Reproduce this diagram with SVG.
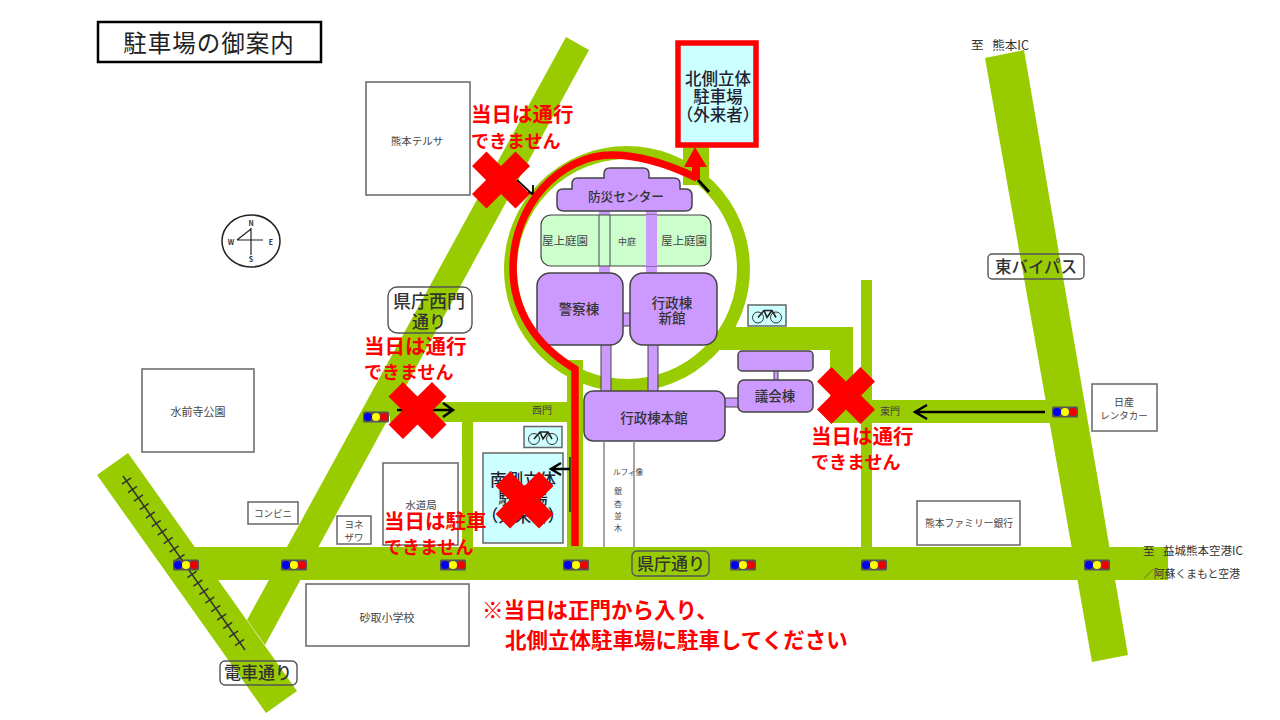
<svg xmlns="http://www.w3.org/2000/svg" width="1280" height="720" viewBox="0 0 1280 720">
<style>
text{font-family:"Noto Sans CJK JP","Liberation Sans",sans-serif;text-anchor:middle}
.road{fill:#99cc00}
.b{fill:#fff;stroke:#666;stroke-width:1.5}
.t{fill:#444;font-size:10.5px}
.k{fill:#333;font-size:13.5px;font-weight:500}
.s{fill:#223;font-size:16.5px;font-weight:500}
.p{fill:#cc99ff;stroke:#444;stroke-width:1.5}
.c{fill:#ccffcc;stroke:#444;stroke-width:1.2}
.sb{fill:#ccffff;stroke:#666;stroke-width:1.5}
.r{fill:#ff0000;font-size:20.5px;font-weight:700;text-anchor:start}
.r2{fill:#ff0000;font-size:18px;font-weight:700;text-anchor:start}
.n{fill:#ff0000;font-size:21.5px;font-weight:700;text-anchor:start}
.x{fill:#ff0000}
.lab{fill:none;stroke:#555;stroke-width:1.4}
.lt{fill:#333;font-size:17px;font-weight:500}
.ar{fill:none;stroke:#000;stroke-width:2.5}
.ic{fill:#333;font-size:11.5px}
</style>
<defs>
<g id="sig"><rect x="-13" y="-5.5" width="26" height="11" rx="1.5" fill="#555"/><circle cx="-8" cy="0" r="4" fill="#0000ee"/><circle cx="0" cy="0" r="4" fill="#ffff00"/><circle cx="8" cy="0" r="4" fill="#ee0000"/></g>
<polygon id="xm" points="-29,-14 -14.5,-28.5 0,-14 14.5,-28.5 29,-14 15,0 29,14 14.5,28.5 0,14 -14.5,28.5 -29,14 -15,0"/>
<g id="bike"><rect x="-19" y="-10.5" width="38" height="21" fill="#ccffff" stroke="#666" stroke-width="1.5"/><circle cx="-9" cy="2" r="5.5" fill="none" stroke="#333"/><circle cx="9" cy="2" r="5.5" fill="none" stroke="#333"/><path d="M-9 2L-3-5L5-5L9 2M-3-5L0 2L5-5" fill="none" stroke="#222" stroke-width="1.6"/></g>
</defs>
<rect width="1280" height="720" fill="#fff"/>
<g id="roads">
<polygon class="road" points="566,37 589,50 265,645 247,620"/>
<polygon class="road" points="128,453 97,475 266,713 297,691"/>
<rect class="road" x="195" y="547" width="973" height="33"/>
<polygon class="road" points="985,58 1024,50 1128,655 1092,662"/>
<rect class="road" x="390" y="402" width="185" height="20"/>
<rect class="road" x="462" y="420" width="11" height="130"/>
<rect class="road" x="567" y="360" width="16" height="190"/>
<rect class="road" x="861" y="280" width="11" height="270"/>
<rect class="road" x="830" y="400" width="225" height="23"/>
<rect class="road" x="720" y="327" width="133" height="23"/>
<rect class="road" x="830" y="327" width="23" height="75"/>
<rect class="road" x="683" y="145" width="26" height="40"/>
<circle cx="627" cy="269" r="116.5" fill="none" stroke="#99cc00" stroke-width="13"/>
</g>
<g id="rail" fill="none" stroke="#333" stroke-width="1.5">
<path d="M123 476L245 650"/>
<path d="M122 484.2l9-6.4m-3.05 14.9l9-6.4m-3.05 14.9l9-6.4m-3.05 14.9l9-6.4m-3.05 14.9l9-6.4m-3.05 14.9l9-6.4m-3.05 14.9l9-6.4m-3.05 14.9l9-6.4m-3.05 14.9l9-6.4m-3.05 14.9l9-6.4m-3.05 14.9l9-6.4m-3.05 14.9l9-6.4m-3.05 14.9l9-6.4m-3.05 14.9l9-6.4m-3.05 14.9l9-6.4m-3.05 14.9l9-6.4m-3.05 14.9l9-6.4m-3.05 14.9l9-6.4m-3.05 14.9l9-6.4m-3.05 14.9l9-6.4"/>
</g>
<g id="title"><rect x="98" y="22" width="223" height="40" fill="#fff" stroke="#000" stroke-width="2.5"/><text x="209" y="52" font-size="23.5" letter-spacing="1" fill="#222">駐車場の御案内</text></g>
<g id="compass" fill="none" stroke="#222"><ellipse cx="251" cy="241" rx="29" ry="26" stroke-width="1.5"/><path d="M251 228V255M237 240H263M251 229L237 240" stroke-width="1.2"/><g fill="#333" stroke="none" font-size="7" font-weight="700"><text x="251" y="226">N</text><text x="231" y="245">W</text><text x="271" y="245">E</text><text x="251" y="262">S</text></g></g>
<g id="n-terusa"><rect class="b" x="366" y="82" width="104" height="113"/><text class="t" x="417" y="145">熊本テルサ</text></g>
<g id="n-suizenji"><rect class="b" x="142" y="369" width="112" height="83"/><text class="t" x="198" y="416" style="font-size:11px">水前寺公園</text></g>
<g id="n-conv"><rect class="b" x="248" y="502" width="50" height="22"/><text class="t" x="273" y="517" style="font-size:9.5px">コンビニ</text></g>
<g id="n-yonezawa"><rect class="b" x="337" y="516" width="34" height="28"/><text class="t" x="354" y="528" style="font-size:9.5px">ヨネ</text><text class="t" x="354" y="541" style="font-size:9.5px">ザワ</text></g>
<g id="n-water"><rect class="b" x="383" y="463" width="75" height="82"/><text class="t" x="421" y="509">水道局</text></g>
<g id="n-school"><rect class="b" x="306" y="584" width="163" height="62"/><text class="t" x="387" y="622" style="font-size:11px">砂取小学校</text></g>
<g id="n-rental"><rect class="b" x="1092" y="384" width="65" height="47"/><text class="t" x="1124" y="406" style="font-size:10px">日産</text><text class="t" x="1124" y="419" style="font-size:9.5px">レンタカー</text></g>
<g id="n-bank"><rect class="b" x="917" y="501" width="103" height="44"/><text class="t" x="969" y="527" style="font-size:9.8px">熊本ファミリー銀行</text></g>
<g id="bldg-links" fill="#cc99ff" stroke="#444" stroke-width="1">
<rect x="599" y="208" width="11" height="68" stroke="none"/><rect x="646" y="208" width="11" height="68" stroke="none"/>
<rect x="601" y="343" width="10" height="50"/><rect x="648" y="343" width="10" height="50"/>
<rect x="621" y="313" width="11" height="13"/><rect x="723" y="398" width="17" height="9"/><rect x="774" y="369" width="4" height="13"/>
</g>
<g id="n-garden"><rect class="c" x="541" y="215" width="170" height="51" rx="10"/><path d="M599 215V266M610 215V266" stroke="#445" fill="none"/><rect x="646" y="215" width="11" height="51" fill="#cc99ff"/><text class="t" x="565" y="245" style="font-size:11.5px">屋上庭園</text><text class="t" x="627" y="245" style="font-size:9px">中庭</text><text class="t" x="684" y="245" style="font-size:11.5px">屋上庭園</text></g>
<g id="n-bosai"><path class="p" d="M604 174Q604 168 610 168H643Q649 168 649 174V178H674Q680 178 680 184V189H686Q692 189 692 196V205Q692 211 685 211H564Q557 211 557 205V195Q557 189 563 189H572V184Q572 178 578 178H604Z"/><text class="k" x="626" y="201" style="font-size:12.7px">防災センター</text></g>
<g id="n-police"><rect class="p" x="537" y="273" width="86" height="72" rx="13"/><text class="k" x="579" y="314">警察棟</text></g>
<g id="n-new"><rect class="p" x="630" y="273" width="87" height="72" rx="13"/><text class="k" x="672" y="308">行政棟</text><text class="k" x="672" y="323">新館</text></g>
<g id="n-main"><rect class="p" x="584" y="391" width="141" height="50" rx="9"/><text class="k" x="654" y="423">行政棟本館</text></g>
<g id="n-gikai0"><rect class="p" x="738" y="351" width="75" height="20" rx="4"/></g>
<g id="n-gikai"><rect class="p" x="738" y="380" width="75" height="32" rx="6"/><text class="k" x="775" y="401">議会棟</text></g>
<g id="avenue" stroke="#888" stroke-width="1.5"><path d="M604 441V547M634 441V547"/></g>
<g id="avenue-labels"><text class="t" x="628" y="475" style="font-size:7.5px">ルフィ像</text><text class="t" x="618" y="494" style="font-size:8px">銀</text><text class="t" x="618" y="507" style="font-size:8px">杏</text><text class="t" x="618" y="519" style="font-size:8px">並</text><text class="t" x="618" y="531" style="font-size:8px">木</text></g>
<g id="n-south"><rect class="sb" x="483" y="453" width="80" height="90"/><text class="s" x="523" y="486">南側立体</text><text class="s" x="523" y="504">駐車場</text><text class="s" x="523" y="522">（外来者）</text></g>
<g id="n-north"><rect x="678" y="43" width="78" height="102" fill="#ccffff" stroke="#ff0000" stroke-width="5.5"/><text class="s" x="718" y="85">北側立体</text><text class="s" x="718" y="103">駐車場</text><text class="s" x="718" y="121">（外来者）</text></g>
<use href="#bike" x="767" y="315.5"/><use href="#bike" x="543" y="437"/>
<g id="signals"><use href="#sig" x="186" y="565"/><use href="#sig" x="294" y="565"/><use href="#sig" x="453" y="565"/><use href="#sig" x="576" y="565"/><use href="#sig" x="743" y="565"/><use href="#sig" x="874" y="565"/><use href="#sig" x="1097" y="565"/><use href="#sig" x="376" y="417"/><use href="#sig" x="1065" y="412"/></g>
<g id="connectors">
<path d="M517 180L533 195M525 193H533V185" fill="none" stroke="#000" stroke-width="1.8"/>
<path d="M698 180L709 192" stroke="#000" stroke-width="3"/>
<path d="M397 410H453M443 403L453 410L443 417" class="ar"/>
<path d="M1045 412H916M927 405L915 412L927 419" class="ar"/>
<path d="M570 457V512" stroke="#222" stroke-width="1.5"/>
<path d="M570 469H552M561 463L551 469L561 475" class="ar"/>
<path d="M575 546V369C535 345 513 310 513 268C513 205 560 155 612 155C640 155 670 165 697 178" fill="none" stroke="#ff0000" stroke-width="7.5"/>
<polygon points="695,147 707,167 684,167" fill="#ff0000"/><rect x="692" y="160" width="8" height="20" fill="#ff0000"/>
</g>
<g id="road-labels"><text class="t" x="542" y="414" style="font-size:10px">西門</text><text class="t" x="890" y="415" style="font-size:10px">東門</text>
<g><rect class="lab" x="632" y="551" width="77" height="25" rx="5"/><text class="lt" x="671" y="570">県庁通り</text></g>
<g><rect class="lab" x="220" y="661" width="77" height="24" rx="5"/><text class="lt" x="258" y="679">電車通り</text></g>
<g><rect class="lab" x="388" y="287" width="84" height="46" rx="9"/><text class="lt" x="429" y="308" style="font-size:18px">県庁西門</text><text class="lt" x="429" y="328" style="font-size:17px">通り</text></g>
<g><rect class="lab" x="988" y="254" width="96" height="25" rx="4"/><text class="lt" x="1036" y="273" style="font-size:16.5px">東バイパス</text></g>
<text class="ic" x="1000" y="50" style="font-size:12.5px;word-spacing:6px">至 熊本IC</text>
<text class="ic" x="1143" y="555" style="text-anchor:start;word-spacing:6px">至 益城熊本空港IC</text>
<text class="ic" x="1143" y="578" style="text-anchor:start;font-size:10.8px">／阿蘇くまもと空港</text></g>
<g id="x-marks" class="x"><use href="#xm" x="501" y="180"/><use href="#xm" x="417.5" y="410.5"/><use href="#xm" x="846" y="395.5"/><use href="#xm" x="524.5" y="500"/></g>
<g id="notes">
<text class="r" x="471" y="122">当日は通行</text><text class="r2" x="471" y="148">できません</text>
<text class="r" x="364" y="354">当日は通行</text><text class="r2" x="364" y="379">できません</text>
<text class="r" x="811" y="444">当日は通行</text><text class="r2" x="811" y="469">できません</text>
<text class="r" x="384" y="529">当日は駐車</text><text class="r2" x="384" y="554">できません</text>
<text class="n" x="482" y="618">※当日は正門から入り、</text><text class="n" x="505" y="648">北側立体駐車場に駐車してください</text>
</g>
</svg>
